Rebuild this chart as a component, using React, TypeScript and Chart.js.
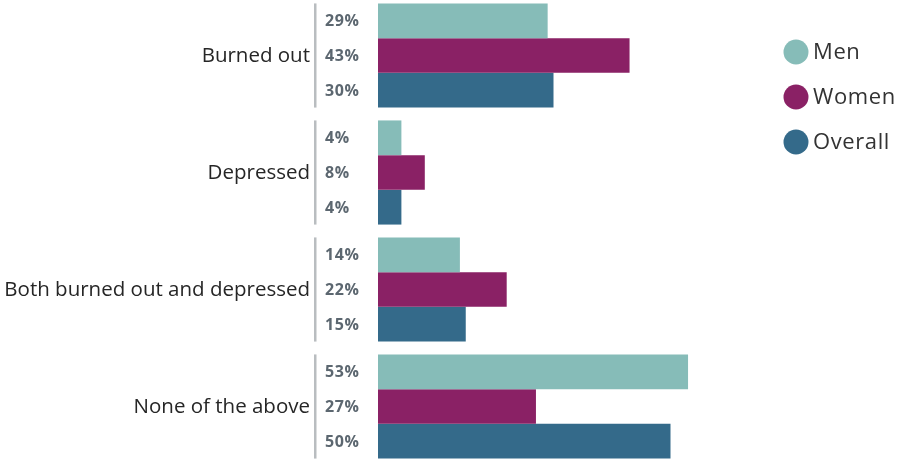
import React, { useEffect, useRef } from "react";
import { Chart, registerables } from "chart.js";

Chart.register(...registerables);

const categories = ["Burned out", "Depressed", "Both burned out and depressed", "None of the above"];
const men = [29, 4, 14, 53];
const women = [43, 8, 22, 27];
const overall = [30, 4, 15, 50];
const seriesNames = ["Men", "Women", "Overall"];
const seriesColors = ["#86bcb8", "#8a2165", "#346a8a"];

const FONT = "'Open Sans', sans-serif";

const labelsPlugin = {
  id: "customLabels",
  afterDatasetsDraw(chart: any) {
    const ctx = chart.ctx;
    ctx.save();
    // value labels
    ctx.font = `bold 16px ${FONT}`;
    (ctx as any).letterSpacing = "0.6px";
    ctx.fillStyle = "#5c6770";
    ctx.textAlign = "left";
    ctx.textBaseline = "middle";
    chart.data.datasets.forEach((ds: any, di: number) => {
      const meta = chart.getDatasetMeta(di);
      meta.data.forEach((bar: any, i: number) => {
        ctx.fillText(`${ds.data[i]}%`, 325, bar.y + 1);
      });
    });
    (ctx as any).letterSpacing = "0px";
    // category labels and separators
    const n = chart.data.datasets.length;
    const first = chart.getDatasetMeta(0);
    const last = chart.getDatasetMeta(n - 1);
    ctx.font = `20.5px ${FONT}`;
    ctx.textAlign = "right";
    categories.forEach((c, i) => {
      const y = chart.scales.y.getPixelForValue(i);
      ctx.fillStyle = "#262626";
      ctx.fillText(c, 310, y + 1);
      const b0 = first.data[i];
      const b1 = last.data[i];
      const top = b0.y - b0.height / 2;
      const bottom = b1.y + b1.height / 2;
      ctx.fillStyle = "#b9bdc0";
      ctx.fillRect(314, top, 2.5, bottom - top);
    });
    // legend
    ctx.textAlign = "left";
    ctx.font = `22px ${FONT}`;
    (ctx as any).letterSpacing = "0.6px";
    seriesNames.forEach((name, i) => {
      const cy = 55 + i * 45;
      ctx.beginPath();
      ctx.arc(796, cy, 12.5, 0, Math.PI * 2);
      ctx.fillStyle = seriesColors[i];
      ctx.fill();
      ctx.fillStyle = "#333333";
      ctx.fillText(name, 813, cy + 1);
    });
    ctx.restore();
  },
};

export default function App() {
  const ref = useRef<HTMLCanvasElement>(null);
  useEffect(() => {
    if (!ref.current) return;
    const chart = new Chart(ref.current, {
      type: "bar",
      data: {
        labels: categories,
        datasets: [
          { label: seriesNames[0], data: men, backgroundColor: seriesColors[0] },
          { label: seriesNames[1], data: women, backgroundColor: seriesColors[1] },
          { label: seriesNames[2], data: overall, backgroundColor: seriesColors[2] },
        ],
      },
      options: {
        indexAxis: "y",
        responsive: false,
        animation: false,
        devicePixelRatio: 1,
        layout: { padding: { left: 378, right: 173, top: 0, bottom: 0 } },
        datasets: { bar: { categoryPercentage: 0.89, barPercentage: 1, borderWidth: 0 } },
        scales: {
          x: { display: false, min: 0, max: 60 },
          y: { display: false },
        },
        plugins: { legend: { display: false }, tooltip: { enabled: false } },
      },
      plugins: [labelsPlugin],
    });
    return () => chart.destroy();
  }, []);
  return (
    <div style={{ position: "fixed", left: 0, top: 0, width: 902, height: 459, overflow: "hidden", background: "#fff" }}>
      <canvas ref={ref} width={902} height={468} style={{ position: "absolute", left: 0, top: -3, width: 902, height: 468 }} />
    </div>
  );
}
